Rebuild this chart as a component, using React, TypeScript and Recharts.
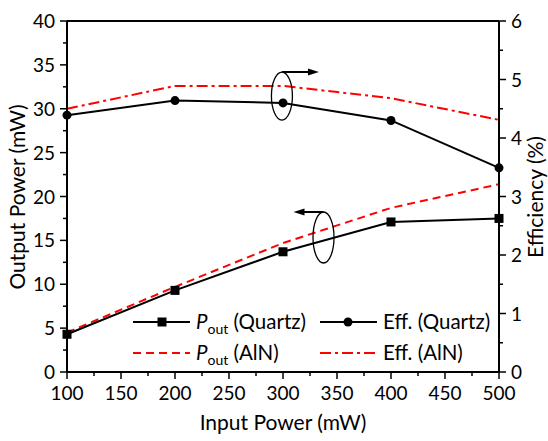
import React from 'react';
import { LineChart, Line, XAxis, YAxis, ReferenceLine, ReferenceDot } from 'recharts';

const inputPower = [100, 200, 300, 400, 500];
const poutQuartz = [4.3, 9.3, 13.7, 17.1, 17.5];
const poutAlN = [4.5, 9.7, 14.7, 18.7, 21.4];
const effQuartz = [4.39, 4.64, 4.6, 4.3, 3.49];
const effAlN = [4.5, 4.89, 4.89, 4.68, 4.31];

const xTicks = [100, 125, 150, 175, 200, 225, 250, 275, 300, 325, 350, 375, 400, 425, 450, 475, 500];
const leftTicks = [0, 2.5, 5, 7.5, 10, 12.5, 15, 17.5, 20, 22.5, 25, 27.5, 30, 32.5, 35, 37.5, 40];
const rightTicks = [0, 0.5, 1, 1.5, 2, 2.5, 3, 3.5, 4, 4.5, 5, 5.5, 6];

const data = inputPower.map((x, i) => ({
  x,
  poutQuartz: poutQuartz[i],
  poutAlN: poutAlN[i],
  effQuartz: effQuartz[i],
  effAlN: effAlN[i],
}));

const FONT = 'Lato, "Open Sans", sans-serif';
const RED = '#ff0000';
const TICK_FS = 19;

const BottomTick = (props: any) => {
  const { x, y, payload } = props;
  const major = payload.value % 50 === 0;
  return (
    <g>
      <line x1={x} x2={x} y1={y} y2={y + (major ? 7 : 4)} stroke="#000" strokeWidth={1.5} />
      {major && (
        <text x={x} y={y + 28} textAnchor="middle" fontSize={TICK_FS} fontFamily={FONT} fill="#000">
          {payload.value}
        </text>
      )}
    </g>
  );
};

const LeftTick = (props: any) => {
  const { x, y, payload } = props;
  const major = payload.value % 5 === 0;
  return (
    <g>
      <line x1={x} x2={x - (major ? 7 : 4)} y1={y} y2={y} stroke="#000" strokeWidth={1.5} />
      {major && (
        <text x={x - 12} y={y + 7} textAnchor="end" fontSize={TICK_FS} fontFamily={FONT} fill="#000">
          {payload.value}
        </text>
      )}
    </g>
  );
};

const RightTick = (props: any) => {
  const { x, y, payload } = props;
  const major = payload.value % 1 === 0;
  return (
    <g>
      <line x1={x} x2={x + (major ? 7 : 4)} y1={y} y2={y} stroke="#000" strokeWidth={1.5} />
      {major && (
        <text x={x + 12} y={y + 7} textAnchor="start" fontSize={TICK_FS} fontFamily={FONT} fill="#000">
          {payload.value}
        </text>
      )}
    </g>
  );
};

const SquareDot = (props: any) => {
  const { cx, cy } = props;
  return <rect x={cx - 4.5} y={cy - 4.5} width={9} height={9} fill="#000" />;
};

// ellipse annotation with an arrow pointing to the relevant axis
const EllipseRight = (props: any) => {
  const { cx, cy } = props;
  const top = cy - 24;
  return (
    <g>
      <ellipse cx={cx} cy={cy} rx={10.5} ry={24} fill="none" stroke="#000" strokeWidth={1.3} />
      <line x1={cx} x2={cx + 28} y1={top} y2={top} stroke="#000" strokeWidth={2} />
      <polygon points={`${cx + 37},${top} ${cx + 26},${top - 3.5} ${cx + 26},${top + 3.5}`} fill="#000" />
    </g>
  );
};

const EllipseLeft = (props: any) => {
  const { cx, cy } = props;
  const top = cy - 25.5;
  return (
    <g>
      <ellipse cx={cx} cy={cy} rx={10.5} ry={25.5} fill="none" stroke="#000" strokeWidth={1.3} />
      <line x1={cx} x2={cx - 21} y1={top} y2={top} stroke="#000" strokeWidth={2} />
      <polygon points={`${cx - 30},${top} ${cx - 19},${top - 3.5} ${cx - 19},${top + 3.5}`} fill="#000" />
    </g>
  );
};

const Overlay = () => (
  <svg
    width={548}
    height={441}
    style={{ position: 'absolute', left: 0, top: 0, pointerEvents: 'none' }}
    fontFamily={FONT}
    fontSize={21}
  >
    <text x={283} y={430} textAnchor="middle">Input Power (mW)</text>
    <text transform="translate(25,197) rotate(-90)" textAnchor="middle">Output Power (mW)</text>
    <text transform="translate(543,197) rotate(-90)" textAnchor="middle">Efficiency (%)</text>

    {/* legend */}
    <g fontSize={20.5}>
      <line x1={133} x2={190} y1={322} y2={322} stroke="#000" strokeWidth={2} />
      <rect x={157.5} y={317.5} width={9} height={9} fill="#000" />
      <text x={196} y={329}>
        <tspan fontStyle="italic">P</tspan>
        <tspan dy={5} fontSize={14}>out</tspan>
        <tspan dy={-5}> (Quartz)</tspan>
      </text>
      <line x1={320} x2={377} y1={322} y2={322} stroke="#000" strokeWidth={2} />
      <circle cx={348} cy={322} r={4.5} fill="#000" />
      <text x={383} y={329}>Eff. (Quartz)</text>

      <line x1={133} x2={190} y1={353} y2={353} stroke={RED} strokeWidth={2} strokeDasharray="8 5" />
      <text x={196} y={360}>
        <tspan fontStyle="italic">P</tspan>
        <tspan dy={5} fontSize={14}>out</tspan>
        <tspan dy={-5}> (AlN)</tspan>
      </text>
      <line x1={320} x2={377} y1={353} y2={353} stroke={RED} strokeWidth={2} strokeDasharray="11 4 3 4" />
      <text x={383} y={360}>Eff. (AlN)</text>
    </g>
  </svg>
);

export default function App() {
  return (
    <div style={{ position: 'absolute', left: 0, top: 0, width: 548, height: 441, background: '#fff' }}>
      <LineChart width={548} height={441} data={data} margin={{ top: 21, right: 48, bottom: 68, left: 66 }}>
        <XAxis
          dataKey="x"
          type="number"
          domain={[100, 500]}
          ticks={xTicks}
          interval={0}
          height={1}
          tickSize={0}
          tickMargin={0}
          tickLine={false}
          tick={BottomTick}
          axisLine={{ stroke: '#000', strokeWidth: 2 }}
        />
        <YAxis
          yAxisId="left"
          domain={[0, 40]}
          ticks={leftTicks}
          interval={0}
          width={1}
          tickSize={0}
          tickMargin={0}
          tickLine={false}
          tick={LeftTick}
          axisLine={{ stroke: '#000', strokeWidth: 2 }}
        />
        <YAxis
          yAxisId="right"
          orientation="right"
          domain={[0, 6]}
          ticks={rightTicks}
          interval={0}
          width={1}
          tickSize={0}
          tickMargin={0}
          tickLine={false}
          tick={RightTick}
          axisLine={{ stroke: '#000', strokeWidth: 2 }}
        />
        <ReferenceLine yAxisId="left" y={40} stroke="#000" strokeWidth={2} />

        <Line yAxisId="left" dataKey="poutAlN" stroke={RED} strokeWidth={2} strokeDasharray="8 5" dot={false} isAnimationActive={false} />
        <Line yAxisId="right" dataKey="effAlN" stroke={RED} strokeWidth={2} strokeDasharray="11 4 3 4" dot={false} isAnimationActive={false} />
        <Line yAxisId="left" dataKey="poutQuartz" stroke="#000" strokeWidth={2} dot={SquareDot} isAnimationActive={false} />
        <Line yAxisId="right" dataKey="effQuartz" stroke="#000" strokeWidth={2} dot={{ r: 4.5, fill: '#000', stroke: '#000', strokeWidth: 0 }} isAnimationActive={false} />

        <ReferenceDot yAxisId="left" x={299} y={31.45} shape={EllipseRight} />
        <ReferenceDot yAxisId="left" x={337.5} y={15.33} shape={EllipseLeft} />
      </LineChart>
      <Overlay />
    </div>
  );
}
